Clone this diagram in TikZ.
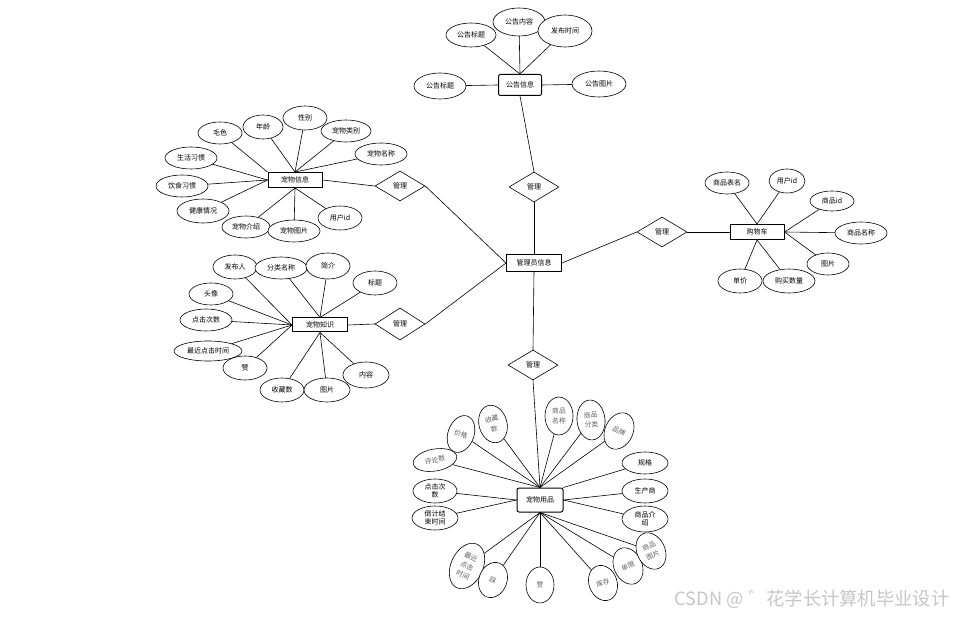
\documentclass[tikz,border=0pt]{standalone}
\usepackage{fontspec}
\setmainfont{Noto Sans CJK SC}
\usetikzlibrary{shapes.geometric}

\begin{document}
\begin{tikzpicture}[x=1pt, y=-1pt, line join=round, line cap=round,
    ent/.style={draw, line width=1pt, fill=white, inner sep=0pt,
                font=\fontsize{7}{8}\selectfont},
    attr/.style={ellipse, draw, line width=0.6pt, fill=white, inner sep=0pt,
                 align=center, font=\fontsize{7}{8}\selectfont},
    attrg/.style={attr, text=gray!75!black, font=\fontsize{6.8}{9.6}\selectfont},
    rel/.style={diamond, draw, line width=0.6pt, fill=white, inner sep=0pt,
                minimum width=50, minimum height=30, font=\fontsize{7}{8}\selectfont},
    conn/.style={line width=0.6pt}]
    \useasboundingbox (0,0) rectangle (956,617);

    % entities and relations
    \node[ent, rounded corners=2pt, minimum width=43, minimum height=21] (gg) at (520,85) {公告信息};
    \node[ent, minimum width=55, minimum height=17] (ad) at (534,263) {管理员信息};
    \node[ent, minimum width=54, minimum height=15] (cart) at (757,232) {购物车};
    \node[ent, minimum width=54, minimum height=15] (pi) at (295,180) {宠物信息};
    \node[ent, minimum width=55, minimum height=14] (pk) at (320,325) {宠物知识};
    \node[ent, rounded corners=2pt, minimum width=46, minimum height=24] (pu) at (540,500) {宠物用品};
    \node[rel] (dA) at (534,187) {管理};
    \node[rel] (dB) at (662,232) {管理};
    \node[rel] (dC) at (400,186) {管理};
    \node[rel, minimum height=32] (dD) at (400,324) {管理};
    \node[rel] (dE) at (533,365) {管理};

    \draw[conn] (gg.south) -- (dA.north);
    \draw[conn] (dA.south) -- (ad.north);
    \draw[conn] (ad.east) -- (dB.west);
    \draw[conn] (dB.east) -- (cart.west);
    \draw[conn] (pi.east) -- (dC.west);
    \draw[conn] (dC.east) -- (ad.west);
    \draw[conn] (pk.east) -- (dD.west);
    \draw[conn] (dD.east) -- (ad.west);
    \draw[conn] (ad.south) -- (dE.north);
    \draw[conn] (dE.south) -- (pu.north);

    % 公告信息
    \foreach \nm/\px/\py/\aw/\ah/\anc/\txt in {
        ggA/471/35/50/24/north/公告标题, ggB/519/22/52/28/north/公告内容,
        ggC/565/31/54/32/north/发布时间, ggD/440/86/52/26/west/公告标题,
        ggE/599/84/54/26/east/公告图片} {
        \node[attr, minimum width=\aw, minimum height=\ah] (\nm) at (\px,\py) {\txt};
        \draw[conn] (\nm) -- (gg.\anc);
    }

    % 购物车
    \foreach \nm/\px/\py/\aw/\ah/\anc/\txt in {
        caA/727/183/44/22/north/商品表名, caB/787/181/36/24/north/用户id,
        caC/832/201/44/20/east/商品id, caD/861/233/52/22/east/商品名称,
        caE/828/264/42/22/east/图片, caF/740/281/44/24/south/单价,
        caG/789/281/52/24/south/购买数量} {
        \node[attr, minimum width=\aw, minimum height=\ah] (\nm) at (\px,\py) {\txt};
        \draw[conn] (\nm) -- (cart.\anc);
    }

    % 宠物信息
    \foreach \nm/\px/\py/\aw/\ah/\anc/\txt in {
        piA/220/133/44/22/north west/毛色, piB/263/127/40/24/north/年龄,
        piC/305/118/44/24/north/性别, piD/346/131/50/22/north/宠物类别,
        piE/381/154/52/22/north/宠物名称, piF/191/158/52/22/west/生活习惯,
        piG/182/186/52/22/west/饮食习惯, piH/203/211/52/24/west/健康情况,
        piI/246/227/48/22/south/宠物介绍, piJ/294/231/52/22/south/宠物图片,
        piK/340/218/44/24/south/用户id} {
        \node[attr, minimum width=\aw, minimum height=\ah] (\nm) at (\px,\py) {\txt};
        \draw[conn] (\nm) -- (pi.\anc);
    }

    % 宠物知识
    \foreach \nm/\px/\py/\aw/\ah/\anc/\txt in {
        pkA/235/267/44/24/west/发布人, pkB/281/268/52/22/north/分类名称,
        pkC/328/266/44/26/north/简介, pkD/375/283/44/24/north/标题,
        pkE/211/294/44/22/west/头像, pkF/206/320/52/22/west/点击次数,
        pkG/208/351/68/20/west/最近点击时间, pkH/245/368/44/24/west/赞,
        pkI/282/390/44/24/south/收藏数, pkJ/327/390/46/24/south/图片,
        pkK/366/375/46/26/south/内容} {
        \node[attr, minimum width=\aw, minimum height=\ah] (\nm) at (\px,\py) {\txt};
        \draw[conn] (\nm) -- (pk.\anc);
    }

    % 宠物用品
    \foreach \nm/\px/\py/\aw/\ah/\rot/\anc/\txt in {
        puA/461/434/26/38/-20/north/价格, puB/493/424/28/38/15/north/收藏\\数,
        puC/559/416/28/38/0/north/商品\\名称, puD/591/420/28/40/5/north/商品\\分类,
        puE/619/431/28/38/-25/north/品牌, puF/435/460/44/22/10/north/评论数,
        puG/467/566/32/48/-25/south/最近\\点击\\时间, puH/493/580/28/36/-20/south/踩,
        puI/540/585/28/36/0/south/赞, puJ/603/583/28/36/20/south/库存,
        puK/628/566/28/38/25/south/单限, puL/651/551/28/38/25/south/商品\\图片} {
        \node[attrg, minimum width=\aw, minimum height=\ah, rotate=\rot] (\nm) at (\px,\py) {\txt};
        \draw[conn] (\nm) -- (pu.\anc);
    }
    \foreach \nm/\px/\py/\aw/\ah/\anc/\txt in {
        puM/645/463/46/22/north east/规格, puN/645/491/46/24/east/生产商,
        puO/645/519/46/26/east/商品介\\绍, puP/435/491/44/24/west/点击次\\数,
        puQ/435/518/46/24/west/倒计结\\束时间} {
        \node[attr, minimum width=\aw, minimum height=\ah] (\nm) at (\px,\py) {\txt};
        \draw[conn] (\nm) -- (pu.\anc);
    }

    \node[text=gray!45, font=\fontsize{18.3}{20}\selectfont, anchor=east] (wm) at (953,599)
        {CSDN @ ゛花学长计算机毕业设计};
\end{tikzpicture}
\end{document}
